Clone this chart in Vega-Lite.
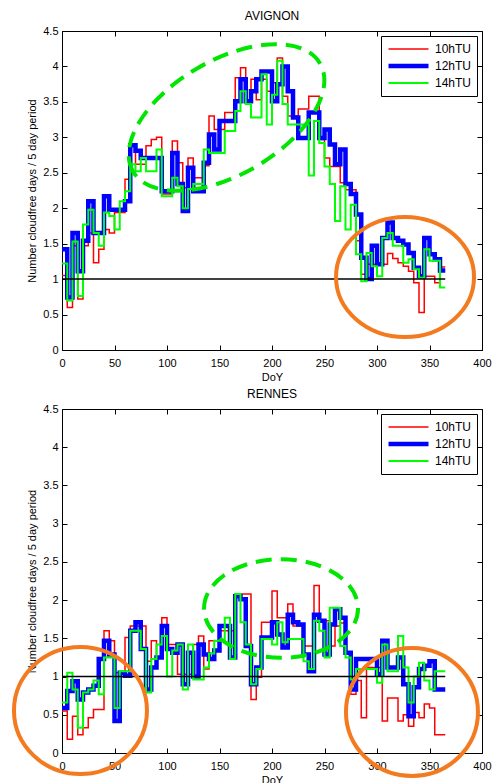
{
  "$schema": "https://vega.github.io/schema/vega-lite/v6.json",
  "padding": {"left": 5, "top": 9, "right": 5, "bottom": 5},
  "background": "white",
  "spacing": 59,
  "bounds": "flush",
  "resolve": {"legend": {"color": "independent", "strokeWidth": "independent"}, "scale": {"color": "independent", "strokeWidth": "independent"}},
  "datasets": {
    "avignon": [
      {"doy": 0, "10hTU": 1.05, "12hTU": 1.42, "14hTU": 1.22},
      {"doy": 5, "10hTU": 0.60, "12hTU": 0.74, "14hTU": 0.70},
      {"doy": 10, "10hTU": 1.47, "12hTU": 1.65, "14hTU": 1.53},
      {"doy": 15, "10hTU": 0.72, "12hTU": 1.11, "14hTU": 0.76},
      {"doy": 20, "10hTU": 1.47, "12hTU": 1.54, "14hTU": 1.77},
      {"doy": 25, "10hTU": 1.65, "12hTU": 2.10, "14hTU": 1.98},
      {"doy": 30, "10hTU": 1.23, "12hTU": 1.65, "14hTU": 1.65},
      {"doy": 35, "10hTU": 1.42, "12hTU": 1.65, "14hTU": 1.47},
      {"doy": 40, "10hTU": 1.70, "12hTU": 2.17, "14hTU": 1.94},
      {"doy": 45, "10hTU": 1.65, "12hTU": 1.98, "14hTU": 1.89},
      {"doy": 50, "10hTU": 1.94, "12hTU": 1.98, "14hTU": 1.70},
      {"doy": 55, "10hTU": 1.94, "12hTU": 1.98, "14hTU": 2.10},
      {"doy": 60, "10hTU": 2.41, "12hTU": 2.10, "14hTU": 2.24},
      {"doy": 65, "10hTU": 2.90, "12hTU": 2.89, "14hTU": 2.62},
      {"doy": 70, "10hTU": 2.62, "12hTU": 2.81, "14hTU": 2.52},
      {"doy": 75, "10hTU": 2.62, "12hTU": 2.71, "14hTU": 2.71},
      {"doy": 80, "10hTU": 2.88, "12hTU": 2.71, "14hTU": 2.52},
      {"doy": 85, "10hTU": 2.97, "12hTU": 2.71, "14hTU": 2.52},
      {"doy": 90, "10hTU": 3.00, "12hTU": 2.71, "14hTU": 2.83},
      {"doy": 95, "10hTU": 2.20, "12hTU": 2.24, "14hTU": 2.17},
      {"doy": 100, "10hTU": 2.20, "12hTU": 2.24, "14hTU": 2.17},
      {"doy": 105, "10hTU": 2.95, "12hTU": 2.78, "14hTU": 2.43},
      {"doy": 110, "10hTU": 2.64, "12hTU": 2.34, "14hTU": 2.31},
      {"doy": 115, "10hTU": 2.29, "12hTU": 1.96, "14hTU": 2.00},
      {"doy": 120, "10hTU": 2.71, "12hTU": 2.57, "14hTU": 2.27},
      {"doy": 125, "10hTU": 2.43, "12hTU": 2.24, "14hTU": 2.34},
      {"doy": 130, "10hTU": 2.43, "12hTU": 2.24, "14hTU": 2.34},
      {"doy": 135, "10hTU": 2.60, "12hTU": 2.64, "14hTU": 2.83},
      {"doy": 140, "10hTU": 3.30, "12hTU": 3.04, "14hTU": 2.78},
      {"doy": 145, "10hTU": 3.11, "12hTU": 2.83, "14hTU": 2.78},
      {"doy": 150, "10hTU": 3.11, "12hTU": 3.23, "14hTU": 2.78},
      {"doy": 155, "10hTU": 3.35, "12hTU": 3.23, "14hTU": 3.09},
      {"doy": 160, "10hTU": 3.35, "12hTU": 3.23, "14hTU": 3.09},
      {"doy": 165, "10hTU": 3.84, "12hTU": 3.51, "14hTU": 3.37},
      {"doy": 170, "10hTU": 3.98, "12hTU": 3.82, "14hTU": 3.65},
      {"doy": 175, "10hTU": 3.51, "12hTU": 3.51, "14hTU": 3.47},
      {"doy": 180, "10hTU": 3.82, "12hTU": 3.65, "14hTU": 3.28},
      {"doy": 185, "10hTU": 3.53, "12hTU": 3.82, "14hTU": 3.28},
      {"doy": 190, "10hTU": 3.82, "12hTU": 3.93, "14hTU": 3.89},
      {"doy": 195, "10hTU": 3.65, "12hTU": 3.93, "14hTU": 3.18},
      {"doy": 200, "10hTU": 3.77, "12hTU": 3.51, "14hTU": 3.60},
      {"doy": 205, "10hTU": 4.12, "12hTU": 3.75, "14hTU": 4.08},
      {"doy": 210, "10hTU": 3.58, "12hTU": 4.00, "14hTU": 3.47},
      {"doy": 215, "10hTU": 3.30, "12hTU": 3.65, "14hTU": 3.18},
      {"doy": 220, "10hTU": 3.30, "12hTU": 3.28, "14hTU": 3.18},
      {"doy": 225, "10hTU": 3.40, "12hTU": 2.99, "14hTU": 3.18},
      {"doy": 230, "10hTU": 3.40, "12hTU": 2.99, "14hTU": 3.18},
      {"doy": 235, "10hTU": 3.58, "12hTU": 3.35, "14hTU": 2.46},
      {"doy": 240, "10hTU": 3.58, "12hTU": 3.35, "14hTU": 3.23},
      {"doy": 245, "10hTU": 2.97, "12hTU": 2.99, "14hTU": 2.92},
      {"doy": 250, "10hTU": 2.71, "12hTU": 3.11, "14hTU": 2.59},
      {"doy": 255, "10hTU": 2.59, "12hTU": 2.90, "14hTU": 2.34},
      {"doy": 260, "10hTU": 2.59, "12hTU": 2.62, "14hTU": 1.82},
      {"doy": 265, "10hTU": 2.36, "12hTU": 2.83, "14hTU": 2.31},
      {"doy": 270, "10hTU": 2.26, "12hTU": 2.34, "14hTU": 1.70},
      {"doy": 275, "10hTU": 2.26, "12hTU": 2.20, "14hTU": 2.05},
      {"doy": 280, "10hTU": 1.54, "12hTU": 1.91, "14hTU": 1.35},
      {"doy": 285, "10hTU": 1.07, "12hTU": 1.30, "14hTU": 0.97},
      {"doy": 290, "10hTU": 1.21, "12hTU": 1.00, "14hTU": 1.37},
      {"doy": 295, "10hTU": 1.21, "12hTU": 1.47, "14hTU": 1.18},
      {"doy": 300, "10hTU": 1.21, "12hTU": 1.21, "14hTU": 1.04},
      {"doy": 305, "10hTU": 1.21, "12hTU": 1.58, "14hTU": 1.58},
      {"doy": 310, "10hTU": 1.36, "12hTU": 1.80, "14hTU": 1.65},
      {"doy": 315, "10hTU": 1.29, "12hTU": 1.58, "14hTU": 1.47},
      {"doy": 320, "10hTU": 1.23, "12hTU": 1.54, "14hTU": 1.47},
      {"doy": 325, "10hTU": 1.18, "12hTU": 1.49, "14hTU": 1.23},
      {"doy": 330, "10hTU": 1.11, "12hTU": 1.37, "14hTU": 1.28},
      {"doy": 335, "10hTU": 0.95, "12hTU": 1.16, "14hTU": 1.14},
      {"doy": 340, "10hTU": 0.53, "12hTU": 1.04, "14hTU": 1.02},
      {"doy": 345, "10hTU": 1.04, "12hTU": 1.58, "14hTU": 1.42},
      {"doy": 350, "10hTU": 1.04, "12hTU": 1.35, "14hTU": 1.26},
      {"doy": 355, "10hTU": 0.95, "12hTU": 1.28, "14hTU": 1.26},
      {"doy": 360, "10hTU": 1.17, "12hTU": 1.12, "14hTU": 0.88},
      {"doy": 365, "10hTU": 1.17, "12hTU": 1.12, "14hTU": 0.88}
    ],
    "rennes": [
      {"doy": 0, "10hTU": 0.55, "12hTU": 0.59, "14hTU": 0.66},
      {"doy": 5, "10hTU": 0.18, "12hTU": 0.81, "14hTU": 1.05},
      {"doy": 10, "10hTU": 0.48, "12hTU": 0.94, "14hTU": 0.83},
      {"doy": 15, "10hTU": 0.24, "12hTU": 0.70, "14hTU": 0.33},
      {"doy": 20, "10hTU": 0.33, "12hTU": 0.79, "14hTU": 0.79},
      {"doy": 25, "10hTU": 0.46, "12hTU": 0.83, "14hTU": 0.83},
      {"doy": 30, "10hTU": 0.57, "12hTU": 0.88, "14hTU": 0.95},
      {"doy": 35, "10hTU": 0.57, "12hTU": 1.23, "14hTU": 0.77},
      {"doy": 40, "10hTU": 1.60, "12hTU": 1.47, "14hTU": 1.25},
      {"doy": 45, "10hTU": 1.47, "12hTU": 1.29, "14hTU": 1.25},
      {"doy": 50, "10hTU": 1.05, "12hTU": 0.42, "14hTU": 0.59},
      {"doy": 55, "10hTU": 1.00, "12hTU": 1.05, "14hTU": 1.07},
      {"doy": 60, "10hTU": 1.51, "12hTU": 1.01, "14hTU": 1.07},
      {"doy": 65, "10hTU": 1.66, "12hTU": 1.60, "14hTU": 1.60},
      {"doy": 70, "10hTU": 1.66, "12hTU": 1.71, "14hTU": 1.60},
      {"doy": 75, "10hTU": 1.66, "12hTU": 1.36, "14hTU": 1.36},
      {"doy": 80, "10hTU": 1.20, "12hTU": 0.83, "14hTU": 0.79},
      {"doy": 85, "10hTU": 1.47, "12hTU": 1.12, "14hTU": 1.23},
      {"doy": 90, "10hTU": 1.25, "12hTU": 1.25, "14hTU": 1.42},
      {"doy": 95, "10hTU": 1.77, "12hTU": 1.66, "14hTU": 1.53},
      {"doy": 100, "10hTU": 1.42, "12hTU": 1.36, "14hTU": 1.00},
      {"doy": 105, "10hTU": 1.42, "12hTU": 1.31, "14hTU": 1.34},
      {"doy": 110, "10hTU": 1.03, "12hTU": 1.42, "14hTU": 1.42},
      {"doy": 115, "10hTU": 1.03, "12hTU": 0.90, "14hTU": 0.83},
      {"doy": 120, "10hTU": 1.03, "12hTU": 1.31, "14hTU": 1.42},
      {"doy": 125, "10hTU": 1.42, "12hTU": 1.00, "14hTU": 0.96},
      {"doy": 130, "10hTU": 1.53, "12hTU": 1.42, "14hTU": 0.96},
      {"doy": 135, "10hTU": 1.10, "12hTU": 1.29, "14hTU": 1.12},
      {"doy": 140, "10hTU": 1.47, "12hTU": 1.23, "14hTU": 1.30},
      {"doy": 145, "10hTU": 1.47, "12hTU": 1.34, "14hTU": 1.47},
      {"doy": 150, "10hTU": 1.60, "12hTU": 1.66, "14hTU": 1.47},
      {"doy": 155, "10hTU": 1.60, "12hTU": 1.66, "14hTU": 1.77},
      {"doy": 160, "10hTU": 1.60, "12hTU": 1.25, "14hTU": 1.23},
      {"doy": 165, "10hTU": 2.08, "12hTU": 2.05, "14hTU": 2.08},
      {"doy": 170, "10hTU": 2.08, "12hTU": 2.01, "14hTU": 1.71},
      {"doy": 175, "10hTU": 2.08, "12hTU": 1.40, "14hTU": 1.42},
      {"doy": 180, "10hTU": 0.70, "12hTU": 0.90, "14hTU": 0.90},
      {"doy": 185, "10hTU": 0.99, "12hTU": 1.12, "14hTU": 1.10},
      {"doy": 190, "10hTU": 1.71, "12hTU": 1.51, "14hTU": 1.49},
      {"doy": 195, "10hTU": 1.71, "12hTU": 1.51, "14hTU": 1.49},
      {"doy": 200, "10hTU": 2.12, "12hTU": 1.71, "14hTU": 1.42},
      {"doy": 205, "10hTU": 1.77, "12hTU": 1.55, "14hTU": 1.71},
      {"doy": 210, "10hTU": 1.77, "12hTU": 1.38, "14hTU": 1.45},
      {"doy": 215, "10hTU": 1.95, "12hTU": 1.81, "14hTU": 1.49},
      {"doy": 220, "10hTU": 1.66, "12hTU": 1.71, "14hTU": 1.49},
      {"doy": 225, "10hTU": 1.66, "12hTU": 1.68, "14hTU": 1.49},
      {"doy": 230, "10hTU": 1.40, "12hTU": 1.29, "14hTU": 1.20},
      {"doy": 235, "10hTU": 1.40, "12hTU": 1.07, "14hTU": 1.10},
      {"doy": 240, "10hTU": 2.19, "12hTU": 1.81, "14hTU": 1.73},
      {"doy": 245, "10hTU": 1.73, "12hTU": 1.73, "14hTU": 1.60},
      {"doy": 250, "10hTU": 1.73, "12hTU": 1.29, "14hTU": 1.25},
      {"doy": 255, "10hTU": 1.40, "12hTU": 1.68, "14hTU": 1.90},
      {"doy": 260, "10hTU": 1.66, "12hTU": 1.88, "14hTU": 1.90},
      {"doy": 265, "10hTU": 1.70, "12hTU": 1.77, "14hTU": 1.40},
      {"doy": 270, "10hTU": 1.31, "12hTU": 1.31, "14hTU": 1.25},
      {"doy": 275, "10hTU": 0.77, "12hTU": 0.83, "14hTU": 0.96},
      {"doy": 280, "10hTU": 0.95, "12hTU": 1.23, "14hTU": 1.10},
      {"doy": 285, "10hTU": 0.46, "12hTU": 1.23, "14hTU": 1.10},
      {"doy": 290, "10hTU": 1.12, "12hTU": 1.23, "14hTU": 1.10},
      {"doy": 295, "10hTU": 1.12, "12hTU": 1.23, "14hTU": 1.10},
      {"doy": 300, "10hTU": 1.12, "12hTU": 1.03, "14hTU": 0.92},
      {"doy": 305, "10hTU": 0.42, "12hTU": 1.47, "14hTU": 1.42},
      {"doy": 310, "10hTU": 0.72, "12hTU": 1.12, "14hTU": 1.07},
      {"doy": 315, "10hTU": 0.72, "12hTU": 1.12, "14hTU": 1.07},
      {"doy": 320, "10hTU": 0.42, "12hTU": 1.25, "14hTU": 1.53},
      {"doy": 325, "10hTU": 0.50, "12hTU": 0.90, "14hTU": 1.12},
      {"doy": 330, "10hTU": 0.35, "12hTU": 0.48, "14hTU": 0.66},
      {"doy": 335, "10hTU": 0.53, "12hTU": 0.86, "14hTU": 1.00},
      {"doy": 340, "10hTU": 0.46, "12hTU": 1.10, "14hTU": 1.18},
      {"doy": 345, "10hTU": 0.64, "12hTU": 1.14, "14hTU": 0.95},
      {"doy": 350, "10hTU": 0.59, "12hTU": 1.20, "14hTU": 0.83},
      {"doy": 355, "10hTU": 0.24, "12hTU": 0.83, "14hTU": 1.07},
      {"doy": 360, "10hTU": 0.24, "12hTU": 0.83, "14hTU": 1.07},
      {"doy": 365, "10hTU": 0.24, "12hTU": 0.83, "14hTU": 1.07}
    ]
  },
  "vconcat": [
    {
      "title": {"text": "AVIGNON"},
      "width": 420,
      "height": 319,
      "layer": [
        {
          "data": {"name": "avignon"},
          "transform": [{"fold": ["10hTU", "12hTU", "14hTU"], "as": ["series", "value"]}],
          "mark": {"type": "line", "interpolate": "step-after", "strokeJoin": "miter"},
          "encoding": {
            "x": {"field": "doy", "type": "quantitative", "scale": {"domain": [0, 400], "nice": false, "zero": false},
                  "axis": {"title": "DoY", "orient": "bottom", "values": [0, 50, 100, 150, 200, 250, 300, 350, 400], "labelPadding": 12, "titlePadding": 3}},
            "y": {"field": "value", "type": "quantitative", "scale": {"domain": [0, 4.5], "nice": false, "zero": false},
                  "axis": {"title": "Number cloudfree days / 5 day period", "orient": "left", "values": [0, 0.5, 1, 1.5, 2, 2.5, 3, 3.5, 4, 4.5], "format": "~g", "labelPadding": 9, "titlePadding": 5}},
            "color": {"field": "series", "type": "nominal", "scale": {"domain": ["10hTU", "12hTU", "14hTU"], "range": ["#ff0000", "#0000ff", "#00ff00"]}, "legend": {"title": null}},
            "strokeWidth": {"field": "series", "type": "nominal", "scale": {"type": "ordinal", "domain": ["10hTU", "12hTU", "14hTU"], "range": [1.5, 4.5, 2]}, "legend": {"title": null}}
          }
        },
        {
          "data": {"values": [{"ref": "one"}]},
          "mark": {"type": "rule", "color": "black", "strokeWidth": 1.5},
          "encoding": {
            "x": {"datum": 0, "axis": {"orient": "top", "labels": false, "title": null, "domain": false, "values": [0, 50, 100, 150, 200, 250, 300, 350, 400]}},
            "x2": {"datum": 365},
            "y": {"datum": 1, "axis": {"orient": "right", "labels": false, "title": null, "domain": false, "values": [0, 0.5, 1, 1.5, 2, 2.5, 3, 3.5, 4, 4.5]}}
          }
        },
        {
          "data": {"values": [{"note": "summer"}]},
          "mark": {"type": "point", "shape": "M -1 0 A 1 0.53 0 1 1 1 0 A 1 0.53 0 1 1 -1 0 Z", "size": 46656, "angle": 330, "filled": false, "color": "#00e600", "strokeWidth": 4, "strokeDash": [16, 9], "opacity": 1},
          "encoding": {"x": {"datum": 156.7, "axis": null}, "y": {"datum": 3.28, "axis": null}}
        },
        {
          "data": {"values": [{"note": "autumn"}]},
          "mark": {"type": "point", "shape": "M -1 0 A 1 0.87 0 1 1 1 0 A 1 0.87 0 1 1 -1 0 Z", "size": 19044, "filled": false, "color": "#f47a20", "strokeWidth": 4, "opacity": 1},
          "encoding": {"x": {"datum": 326.7, "axis": null}, "y": {"datum": 1.03, "axis": null}}
        }
      ],
      "resolve": {"axis": {"x": "independent", "y": "independent"}}
    },
    {
      "title": {"text": "RENNES"},
      "width": 420,
      "height": 344,
      "layer": [
        {
          "data": {"name": "rennes"},
          "transform": [{"fold": ["10hTU", "12hTU", "14hTU"], "as": ["series", "value"]}],
          "mark": {"type": "line", "interpolate": "step-after", "strokeJoin": "miter"},
          "encoding": {
            "x": {"field": "doy", "type": "quantitative", "scale": {"domain": [0, 400], "nice": false, "zero": false},
                  "axis": {"title": "DoY", "orient": "bottom", "values": [0, 50, 100, 150, 200, 250, 300, 350, 400], "labelPadding": 12, "titlePadding": 3}},
            "y": {"field": "value", "type": "quantitative", "scale": {"domain": [0, 4.5], "nice": false, "zero": false},
                  "axis": {"title": "Number cloudfree days / 5 day period", "orient": "left", "values": [0, 0.5, 1, 1.5, 2, 2.5, 3, 3.5, 4, 4.5], "format": "~g", "labelPadding": 9, "titlePadding": 5}},
            "color": {"field": "series", "type": "nominal", "scale": {"domain": ["10hTU", "12hTU", "14hTU"], "range": ["#ff0000", "#0000ff", "#00ff00"]}, "legend": {"title": null}},
            "strokeWidth": {"field": "series", "type": "nominal", "scale": {"type": "ordinal", "domain": ["10hTU", "12hTU", "14hTU"], "range": [1.5, 4.5, 2]}, "legend": {"title": null}}
          }
        },
        {
          "data": {"values": [{"ref": "one"}]},
          "mark": {"type": "rule", "color": "black", "strokeWidth": 1.5},
          "encoding": {
            "x": {"datum": 0, "axis": {"orient": "top", "labels": false, "title": null, "domain": false, "values": [0, 50, 100, 150, 200, 250, 300, 350, 400]}},
            "x2": {"datum": 365},
            "y": {"datum": 1, "axis": {"orient": "right", "labels": false, "title": null, "domain": false, "values": [0, 0.5, 1, 1.5, 2, 2.5, 3, 3.5, 4, 4.5]}}
          }
        },
        {
          "data": {"values": [{"note": "summer"}]},
          "mark": {"type": "point", "shape": "M -1 0 A 1 0.64 0 1 1 1 0 A 1 0.64 0 1 1 -1 0 Z", "size": 23716, "filled": false, "color": "#00e600", "strokeWidth": 4, "strokeDash": [16, 9], "opacity": 1},
          "encoding": {"x": {"datum": 208.6, "axis": null}, "y": {"datum": 1.89, "axis": null}}
        },
        {
          "data": {"values": [{"note": "winter"}]},
          "mark": {"type": "point", "shape": "M -1 0 A 1 0.955 0 1 1 1 0 A 1 0.955 0 1 1 -1 0 Z", "size": 17689, "filled": false, "color": "#f47a20", "strokeWidth": 4, "opacity": 1},
          "encoding": {"x": {"datum": 17.6, "axis": null}, "y": {"datum": 0.556, "axis": null}}
        },
        {
          "data": {"values": [{"note": "autumn"}]},
          "mark": {"type": "point", "shape": "M -1 0 A 1 0.97 0 1 1 1 0 A 1 0.97 0 1 1 -1 0 Z", "size": 17424, "filled": false, "color": "#f47a20", "strokeWidth": 4, "opacity": 1},
          "encoding": {"x": {"datum": 333.3, "axis": null}, "y": {"datum": 0.536, "axis": null}}
        }
      ],
      "resolve": {"axis": {"x": "independent", "y": "independent"}}
    }
  ],
  "config": {
    "font": "Liberation Sans",
    "view": {"stroke": "black", "strokeWidth": 1},
    "axis": {
      "grid": false,
      "domainColor": "black",
      "tickColor": "black",
      "labelColor": "black",
      "titleColor": "black",
      "labelFont": "Liberation Sans",
      "titleFont": "Liberation Sans",
      "labelFontSize": 11,
      "titleFontSize": 11,
      "titleFontWeight": "normal",
      "tickSize": -5,
      "labelFlush": false,
      "labelOverlap": false
    },
    "legend": {
      "orient": "top-right",
      "offset": 5,
      "padding": 5,
      "strokeColor": "black",
      "fillColor": "white",
      "cornerRadius": 0,
      "symbolType": "stroke",
      "symbolSize": 1600,
      "labelFont": "Liberation Sans",
      "labelFontSize": 12,
      "labelColor": "black",
      "clipHeight": 16,
      "rowPadding": 1,
      "labelOffset": 4
    },
    "title": {"font": "Liberation Sans", "fontSize": 12, "fontWeight": "normal", "color": "black", "offset": 2}
  }
}
